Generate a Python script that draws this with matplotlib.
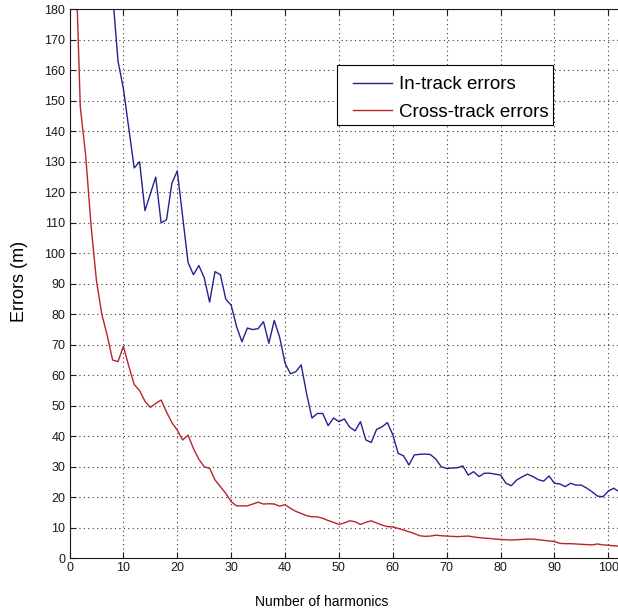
"""Harmonic-count error curves, MATLAB-style figure."""

import matplotlib

matplotlib.use("Agg")
import matplotlib.pyplot as plt
import numpy as np
from matplotlib.patches import Rectangle

COLORS = {
    "in_track": "#23238f",
    "cross_track": "#b8232e",
    "grid": "#3a3a3a",
    "axis": "#1a1a1a",
}

# In-track errors (m), harmonics 8..102
in_track_n = np.arange(8, 103)
in_track = [
    185, 163, 154, 141, 128, 130, 114, 119.5, 125, 110,
    111, 123, 127, 112, 97, 93, 96, 92, 84, 94,
    93, 85, 83, 76, 71, 75.5, 75, 75.3, 77.6, 70.5,
    78, 72.5, 64, 60.5, 61.2, 63.4, 54, 46, 47.5, 47.5,
    43.5, 46, 44.8, 45.7, 43, 41.8, 44.8, 38.8, 38, 42.3,
    43.1, 44.5, 40.5, 34.4, 33.6, 30.6, 33.9, 34.1, 34.2, 34,
    32.5, 30, 29.5, 29.6, 29.7, 30.3, 27.3, 28.4, 26.8, 27.9,
    27.9, 27.6, 27.3, 24.6, 23.8, 25.7, 26.7, 27.6, 26.8, 25.8,
    25.3, 27, 24.6, 24.4, 23.5, 24.6, 24, 24, 23, 21.8,
    20.4, 20.2, 22, 23, 21.8,
]

# Cross-track errors (m), harmonics 1..102
cross_track_n = np.arange(1, 103)
cross_track = [
    205, 148, 132, 109, 91, 80, 73, 65, 64.5, 69.5,
    63, 57, 55, 51.5, 49.5, 50.8, 51.9, 48, 44.5, 42,
    38.8, 40.4, 36, 32.5, 30, 29.5, 25.7, 23.5, 21.3, 18.6,
    17.2, 17.2, 17.2, 17.8, 18.4, 17.8, 17.9, 17.8, 17.1, 17.6,
    16.4, 15.4, 14.7, 14, 13.6, 13.6, 13.1, 12.4, 11.8, 11.1,
    11.6, 12.3, 12, 11.1, 11.8, 12.3, 11.6, 10.9, 10.4, 10.3,
    9.8, 9.3, 8.7, 8.1, 7.4, 7.2, 7.3, 7.6, 7.4, 7.3,
    7.2, 7.1, 7.2, 7.3, 7, 6.8, 6.6, 6.5, 6.3, 6.2,
    6.1, 6, 6.1, 6.2, 6.3, 6.3, 6.1, 5.9, 5.7, 5.5,
    4.9, 4.8, 4.8, 4.7, 4.6, 4.5, 4.4, 4.7, 4.4, 4.3,
    4.1, 4,
]

x_ticks = np.arange(0, 101, 10)
y_ticks = np.arange(0, 181, 10)

plt.rcParams["font.family"] = ["Liberation Sans", "DejaVu Sans"]

fig = plt.figure(figsize=(6.18, 6.13), dpi=100)
ax = fig.add_axes([0.1125, 0.0892, 0.8875, 0.8956])

ax.plot(in_track_n, in_track, color=COLORS["in_track"], lw=1.0, label="In-track errors")
ax.plot(cross_track_n, cross_track, color=COLORS["cross_track"], lw=1.0, label="Cross-track errors")

ax.set_xlim(0, 101.8)
ax.set_ylim(0, 180)
ax.set_xticks(x_ticks)
ax.set_yticks(y_ticks)
ax.tick_params(direction="in", length=4, width=0.8, top=True, right=False,
               labelsize=9, colors=COLORS["axis"], pad=3)
ax.grid(True, color=COLORS["grid"], linestyle=(0, (1, 3)), linewidth=0.8)
ax.spines["right"].set_visible(False)
for side in ("left", "bottom", "top"):
    ax.spines[side].set_linewidth(0.8)
    ax.spines[side].set_color(COLORS["axis"])

ax.set_xlabel("Number of harmonics", fontsize=10)
ax.xaxis.set_label_coords(0.46, -0.066)
ax.set_ylabel("Errors (m)", fontsize=13)
ax.yaxis.set_label_coords(-0.076, 0.505)

# legend box drawn separately so the padding can match the original
ax.add_patch(Rectangle((0.5453, 0.7961), 0.3495, 0.0979, transform=fig.transFigure,
                       facecolor="white", edgecolor="black", linewidth=0.8,
                       zorder=3, clip_on=False))
leg = ax.legend(loc="upper left", bbox_to_anchor=(353 / 618, 1 - 76 / 613),
                bbox_transform=fig.transFigure, fontsize=13.5, borderaxespad=0,
                handlelength=2.1, handletextpad=0.35, borderpad=0,
                labelspacing=0.57, frameon=False)
leg.set_zorder(4)

fig.savefig("out.png", dpi=100)
